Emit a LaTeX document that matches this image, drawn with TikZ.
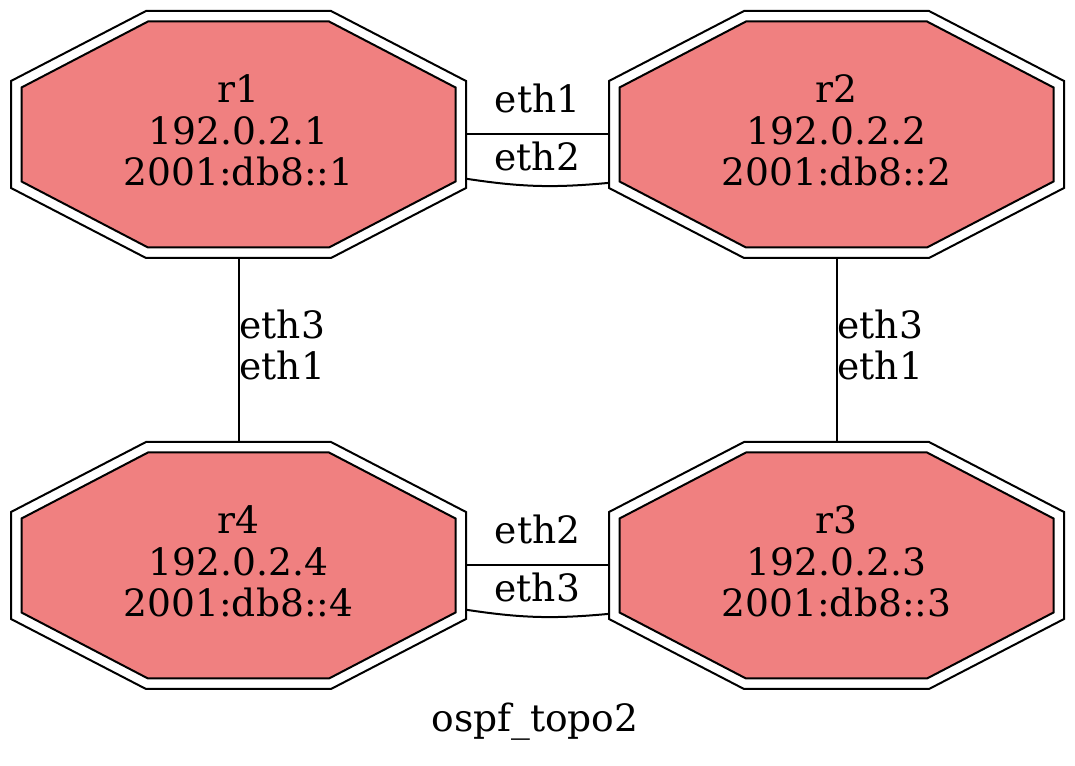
\documentclass[tikz,border=0pt]{standalone}
\usepackage{fontspec}
\setmainfont{DejaVu Serif}
\usetikzlibrary{backgrounds}
\definecolor{lightcoral}{RGB}{240,128,128}

\begin{document}
\begin{tikzpicture}[x=1pt, y=1pt,
  every node/.style={font=\fontsize{37.6pt}{41.5pt}\selectfont},
  wire/.style={line width=2pt},
  router/.style={minimum width=455pt, minimum height=247pt, inner sep=0pt, outer sep=0pt, align=center, text depth=8pt},
  lbl/.style={inner sep=0pt}]
\useasboundingbox (0,0) rectangle (1075,765);
\node[router] (r1) at (238.5,630.5) {r1\\192.0.2.1\\2001:db8::1};
\node[router] (r2) at (836.5,630.5) {r2\\192.0.2.2\\2001:db8::2};
\node[router] (r3) at (836.5,199.5) {r3\\192.0.2.3\\2001:db8::3};
\node[router] (r4) at (238.5,199.5) {r4\\192.0.2.4\\2001:db8::4};
\begin{pgfonlayer}{background}
\foreach \n in {r1,r2,r3,r4}{
  \draw[wire, shift={(\n)}] (-92.5,123.5) -- (92.5,123.5) -- (227.5,53.5) -- (227.5,-53.5) -- (92.5,-123.5) -- (-92.5,-123.5) -- (-227.5,-53.5) -- (-227.5,53.5) -- cycle;
  \filldraw[wire, shift={(\n)}, fill=lightcoral] (-90.5,113) -- (90.5,113) -- (217,47) -- (217,-47) -- (90.5,-113) -- (-90.5,-113) -- (-217,-47) -- (-217,47) -- cycle;
}
\end{pgfonlayer}
\draw[wire] (r1.east) -- node[lbl, above=20pt] (l12a) {eth1} (r2.west);
\draw[wire] (r1.-11.8) to[bend right=7] node[lbl, above=14pt] (l12b) {eth2} (r2.192);
\draw[wire] (r1.south) -- node[lbl, right, align=left, yshift=4.8pt] (l14) {eth3\\eth1} (r4.north);
\draw[wire] (r2.south) -- node[lbl, right, align=left, yshift=4.8pt] (l23) {eth3\\eth1} (r3.north);
\draw[wire] (r4.east) -- node[lbl, above=20pt] (l43a) {eth2} (r3.west);
\draw[wire] (r4.-11.8) to[bend right=7] node[lbl, above=14pt] (l43b) {eth3} (r3.192);
\node[anchor=base] (title) at (535,33.3) {ospf\_topo2};
\end{tikzpicture}
\end{document}
